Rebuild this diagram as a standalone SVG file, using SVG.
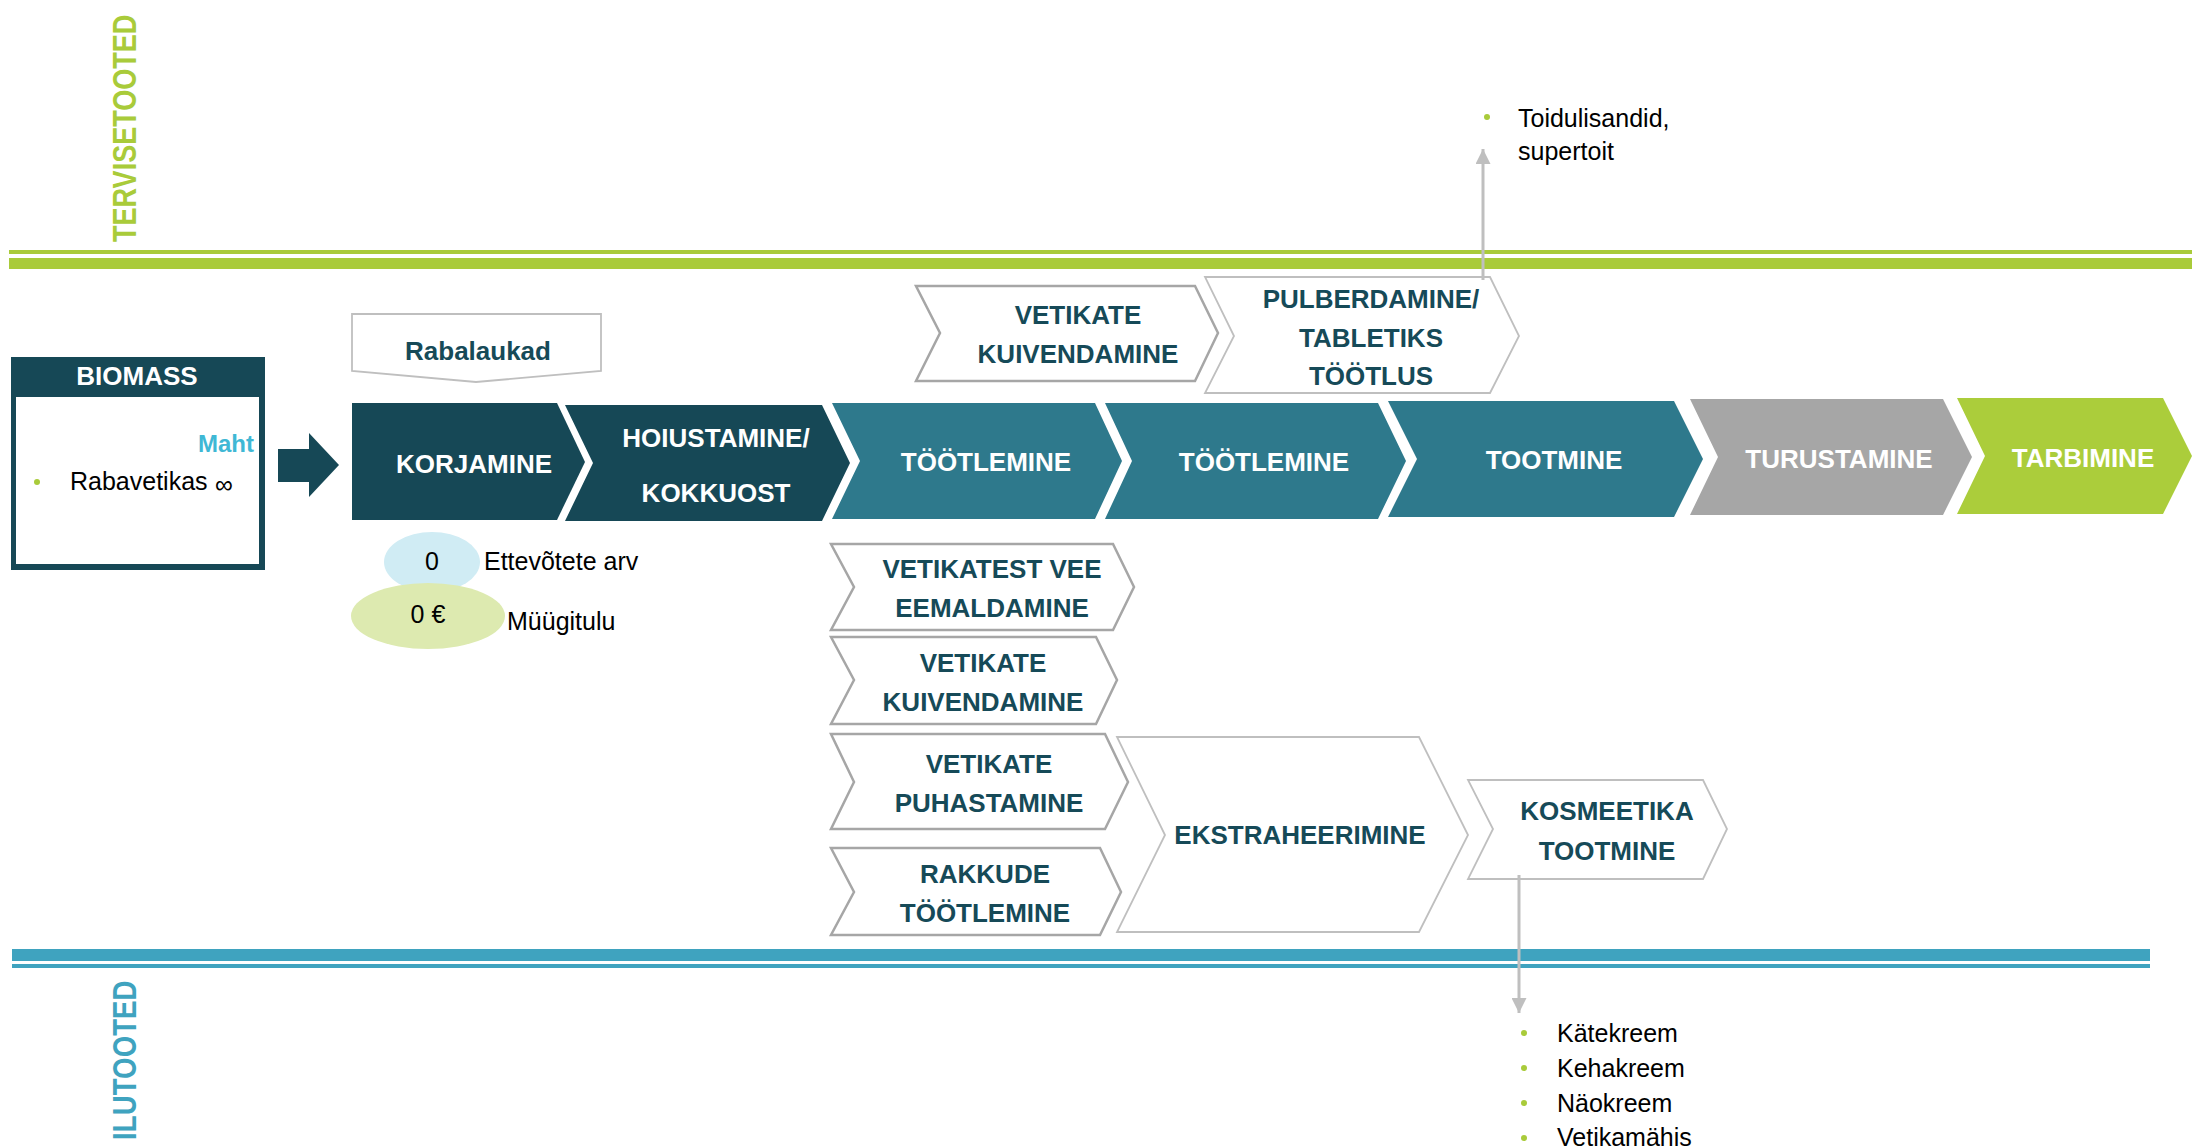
<svg xmlns="http://www.w3.org/2000/svg" width="2202" height="1148" viewBox="0 0 2202 1148">
<style>
text{font-family:"Liberation Sans",Arial,sans-serif}
.w{fill:#FFFFFF;font-weight:bold;font-size:26px;text-anchor:middle}
.d{fill:#164A58;font-weight:bold;font-size:26px;text-anchor:middle}
.n{fill:#000000;font-size:25px}
.dk{fill:#164856}
.tl{fill:#2E798C}
.wc{fill:#FFFFFF;stroke:#BFBFBF;stroke-width:1.8}
.wc2{fill:#FFFFFF;stroke:#A6A6A6;stroke-width:2.5}
.bul{fill:#A9CB3A}
.conn{stroke:#BFBFBF;stroke-width:3;fill:none}
</style>
<defs>
<marker id="ah" viewBox="0 0 10 10" refX="10" refY="5" markerWidth="5" markerHeight="5" markerUnits="strokeWidth" orient="auto">
<path d="M0,0 L10,5 L0,10 Z" fill="#BFBFBF"/>
</marker>
</defs>
<rect width="2202" height="1148" fill="#FFFFFF"/>

<g id="bands">
<rect x="9" y="250" width="2183" height="4" fill="#A9CB3A"/>
<rect x="9" y="258" width="2183" height="11" fill="#A9CB3A"/>
<rect x="12" y="949" width="2138" height="12" fill="#3FA3BF"/>
<rect x="12" y="964" width="2138" height="4" fill="#3FA3BF"/>
<text transform="translate(136,242) rotate(-90) scale(0.82,1)" font-size="33" font-weight="bold" fill="#A9CB3A">TERVISETOOTED</text>
<text transform="translate(136,1140) rotate(-90) scale(0.84,1)" font-size="33" font-weight="bold" fill="#3FA3BF">ILUTOOTED</text>
</g>

<g id="biomass">
<rect x="11" y="357" width="254" height="213" fill="#164856"/>
<rect x="16" y="397" width="243" height="167" fill="#FFFFFF"/>
<text x="137" y="385" class="w" font-size="27">BIOMASS</text>
<text x="254" y="452" font-size="24" font-weight="bold" fill="#3FB8D5" text-anchor="end">Maht</text>
<circle cx="37" cy="482" r="3" class="bul"/>
<text x="70" y="490" class="n" font-size="22">Rabavetikas</text>
<text x="224" y="493" class="n" font-size="24" text-anchor="middle">∞</text>
</g>

<g id="big-arrow">
<polygon points="278,449 309,449 309,433 339,465 309,497 309,482 278,482" fill="#164856"/>
</g>

<g id="rabalaukad">
<polygon points="352,314 601,314 601,371 476,382 352,371" class="wc"/>
<text x="478" y="360" class="d" font-size="27">Rabalaukad</text>
</g>

<g id="korjamine">
<polygon points="352,403 557,403 585,462 557,520 352,520" class="dk"/>
<text x="474" y="473" class="w">KORJAMINE</text>
</g>
<g id="hoiustamine">
<polygon points="565,405 822,405 850,463 822,521 565,521 593,463" class="dk"/>
<text x="716" y="447" class="w">HOIUSTAMINE/</text>
<text x="716" y="502" class="w">KOKKUOST</text>
</g>
<g id="tootlemine1">
<polygon points="832,403 1095,403 1122,461 1095,519 832,519 860,461" class="tl"/>
<text x="986" y="471" class="w">TÖÖTLEMINE</text>
</g>
<g id="tootlemine2">
<polygon points="1105,403 1378,403 1406,461 1378,519 1105,519 1132,461" class="tl"/>
<text x="1264" y="471" class="w">TÖÖTLEMINE</text>
</g>
<g id="tootmine">
<polygon points="1388,401 1674,401 1703,459 1674,517 1388,517 1417,459" class="tl"/>
<text x="1554" y="469" class="w">TOOTMINE</text>
</g>
<g id="turustamine">
<polygon points="1690,399 1943,399 1972,457 1943,515 1690,515 1718,457" fill="#A6A6A6"/>
<text x="1839" y="468" class="w">TURUSTAMINE</text>
</g>
<g id="tarbimine">
<polygon points="1957,398 2163,398 2192,456 2163,514 1957,514 1985,456" fill="#ABCD3B"/>
<text x="2083" y="467" class="w">TARBIMINE</text>
</g>

<g id="vetikate-kuivendamine-top">
<polygon points="916,286 1195,286 1218,333 1195,381 916,381 940,333" class="wc2"/>
<text x="1078" y="324" class="d">VETIKATE</text>
<text x="1078" y="363" class="d">KUIVENDAMINE</text>
</g>
<g id="pulberdamine">
<polygon points="1205,277 1490,277 1519,336 1490,393 1205,393 1234,336" class="wc"/>
<text x="1371" y="308" class="d">PULBERDAMINE/</text>
<text x="1371" y="347" class="d">TABLETIKS</text>
<text x="1371" y="385" class="d">TÖÖTLUS</text>
</g>

<g id="vee-eemaldamine">
<polygon points="831,544 1113,544 1134,587 1113,630 831,630 854,587" class="wc2"/>
<text x="992" y="578" class="d">VETIKATEST VEE</text>
<text x="992" y="617" class="d">EEMALDAMINE</text>
</g>
<g id="vetikate-kuivendamine-bottom">
<polygon points="831,637 1096,637 1117,680 1096,724 831,724 854,680" class="wc2"/>
<text x="983" y="672" class="d">VETIKATE</text>
<text x="983" y="711" class="d">KUIVENDAMINE</text>
</g>
<g id="puhastamine">
<polygon points="831,734 1105,734 1128,782 1105,829 831,829 854,782" class="wc2"/>
<text x="989" y="773" class="d">VETIKATE</text>
<text x="989" y="812" class="d">PUHASTAMINE</text>
</g>
<g id="rakkude">
<polygon points="831,848 1100,848 1121,892 1100,935 831,935 854,892" class="wc2"/>
<text x="985" y="883" class="d">RAKKUDE</text>
<text x="985" y="922" class="d">TÖÖTLEMINE</text>
</g>
<g id="ekstraheerimine">
<polygon points="1117,737 1419,737 1468,835 1419,932 1117,932 1165,835" class="wc"/>
<text x="1300" y="844" class="d">EKSTRAHEERIMINE</text>
</g>
<g id="kosmeetika">
<polygon points="1468,780 1703,780 1727,829 1703,879 1468,879 1493,829" class="wc"/>
<text x="1607" y="820" class="d">KOSMEETIKA</text>
<text x="1607" y="860" class="d">TOOTMINE</text>
</g>

<g id="counts">
<ellipse cx="432" cy="562" rx="48" ry="30" fill="#D0ECF4"/>
<ellipse cx="428" cy="616" rx="77" ry="33" fill="#DDEAB0"/>
<text x="432" y="570" class="n" font-size="21" text-anchor="middle">0</text>
<text x="428" y="623" class="n" font-size="21" text-anchor="middle">0 €</text>
<text x="484" y="570" class="n" font-size="25">Ettevõtete arv</text>
<text x="507" y="630" class="n" font-size="25">Müügitulu</text>
</g>

<g id="toidulisandid">
<circle cx="1487" cy="117" r="3" class="bul"/>
<text x="1518" y="127" class="n" font-size="26">Toidulisandid,</text>
<text x="1518" y="160" class="n" font-size="26">supertoit</text>
</g>

<g id="kosmeetika-tooted">
<circle cx="1524" cy="1033" r="3" class="bul"/>
<circle cx="1524" cy="1068" r="3" class="bul"/>
<circle cx="1524" cy="1103" r="3" class="bul"/>
<circle cx="1524" cy="1138" r="3" class="bul"/>
<text x="1557" y="1042" class="n" font-size="26">Kätekreem</text>
<text x="1557" y="1077" class="n" font-size="26">Kehakreem</text>
<text x="1557" y="1112" class="n" font-size="26">Näokreem</text>
<text x="1557" y="1146" class="n" font-size="26">Vetikamähis</text>
</g>

<g id="connectors">
<line x1="1483" y1="280" x2="1483" y2="149" class="conn" marker-end="url(#ah)"/>
<line x1="1519" y1="875" x2="1519" y2="1013" class="conn" marker-end="url(#ah)"/>
</g>
</svg>
